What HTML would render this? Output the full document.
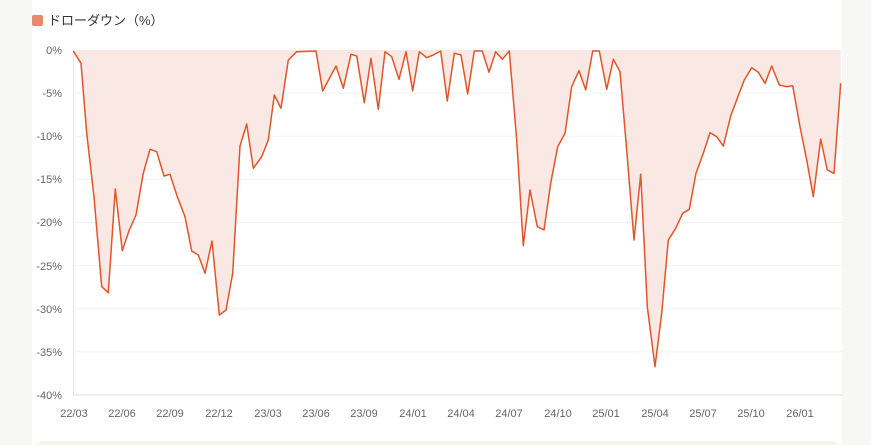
<!DOCTYPE html>
<html><head><meta charset="utf-8"><style>
html,body{margin:0;padding:0;background:#f7f7f5;width:871px;height:445px;overflow:hidden;}
</style></head><body>
<svg width="871" height="445" xmlns="http://www.w3.org/2000/svg" style="position:absolute;left:0;top:0">
<rect x="32" y="0" width="810" height="445" fill="#fff"/>
<rect x="36" y="441" width="802" height="20" rx="6" fill="#f5f4ec"/>
<rect x="32" y="15" width="11" height="11" rx="2" fill="#e6896c"/>
<text x="48" y="25" font-family="Liberation Sans, Noto Sans CJK JP, sans-serif" font-size="13" fill="#333">ドローダウン（%）</text>
<g stroke="#f2f2f2" stroke-width="1">
<line x1="73" x2="842" y1="93.1" y2="93.1"/><line x1="73" x2="842" y1="136.3" y2="136.3"/>
<line x1="73" x2="842" y1="179.4" y2="179.4"/><line x1="73" x2="842" y1="222.5" y2="222.5"/>
<line x1="73" x2="842" y1="265.6" y2="265.6"/><line x1="73" x2="842" y1="308.8" y2="308.8"/>
<line x1="73" x2="842" y1="351.9" y2="351.9"/>
</g>
<line x1="73" x2="842" y1="395" y2="395" stroke="#ddd"/>
<line x1="73.5" x2="73.5" y1="50" y2="395" stroke="#e6e6e6"/>
<g font-family="Liberation Sans, sans-serif" font-size="11" fill="#666" text-anchor="end">
<text x="62" y="54">0%</text><text x="62" y="97">-5%</text><text x="62" y="140">-10%</text>
<text x="62" y="183">-15%</text><text x="62" y="226">-20%</text><text x="62" y="270">-25%</text>
<text x="62" y="313">-30%</text><text x="62" y="356">-35%</text><text x="62" y="399">-40%</text>
</g>
<g font-family="Liberation Sans, sans-serif" font-size="11" fill="#666" text-anchor="middle">
<text x="74" y="417">22/03</text><text x="122" y="417">22/06</text><text x="170" y="417">22/09</text>
<text x="219" y="417">22/12</text><text x="268" y="417">23/03</text><text x="316" y="417">23/06</text>
<text x="364" y="417">23/09</text><text x="413" y="417">24/01</text><text x="461" y="417">24/04</text>
<text x="509" y="417">24/07</text><text x="558" y="417">24/10</text><text x="606" y="417">25/01</text>
<text x="655" y="417">25/04</text><text x="703" y="417">25/07</text><text x="751" y="417">25/10</text>
<text x="800" y="417">26/01</text>
</g>
<path fill="#f9e8e3" d="M73.3,51 L81,63.3 86.7,133 94,197 101.7,286.7 108.3,292.7 115.3,189 122.3,250.7 129.3,230 136,215 143.3,173.3 150,149.3 156.7,151.7 164,176 170,174.3 177.3,196.7 185,216.7 191.7,251 198.3,255 205,273.3 212,241 219.3,315 226,310 232.7,273.3 240,146 246.7,124 253.3,168.3 261.7,156.7 268.3,140 274.3,95 281,108.3 288.3,60 296.7,51.7 316,51 322.7,91 336,66 343.3,88.3 351,54.3 356.7,56 364.3,102.7 371,58.3 378.3,109.3 385,51.7 391.7,56.7 399,79.3 406,51.7 412.7,90.7 419.3,51.7 426.7,57.7 433.3,55 440.7,51 447.3,101 454.3,53.3 461,55 467.7,94 474.3,51 482.3,51 489,72.3 495.7,51.7 502.3,59.3 509.3,51 516.7,140 523.3,245.7 530,190 537.3,226.7 544,230 550.7,183.3 557.7,146.7 565,133.3 571.7,86.7 579,70.7 585.7,90 592.7,51 599.3,51 606.7,89.3 613.3,59.3 620,71.7 626.7,150 634,240 640.7,174.3 647.3,306.7 655,366.7 661.7,313.3 668.3,240 675.7,228.3 682.7,213.3 689.3,209.3 696,173.3 703.3,153.3 710,132.7 716.7,136.7 723.3,146 730.7,116 737.3,98.3 744.3,80 751.7,67.7 758.3,72.3 765,83.3 771.7,66 779.3,85 786.7,86.7 792.7,85.7 800,126.7 806.7,160 813.3,196.7 820.7,139 827.3,170 834,173.3 840.7,83.3 L840.7,50 L73.3,50 Z"/>
<polyline fill="none" stroke="#e0552a" stroke-width="1.5" stroke-linejoin="round" points="73.3,51 81,63.3 86.7,133 94,197 101.7,286.7 108.3,292.7 115.3,189 122.3,250.7 129.3,230 136,215 143.3,173.3 150,149.3 156.7,151.7 164,176 170,174.3 177.3,196.7 185,216.7 191.7,251 198.3,255 205,273.3 212,241 219.3,315 226,310 232.7,273.3 240,146 246.7,124 253.3,168.3 261.7,156.7 268.3,140 274.3,95 281,108.3 288.3,60 296.7,51.7 316,51 322.7,91 336,66 343.3,88.3 351,54.3 356.7,56 364.3,102.7 371,58.3 378.3,109.3 385,51.7 391.7,56.7 399,79.3 406,51.7 412.7,90.7 419.3,51.7 426.7,57.7 433.3,55 440.7,51 447.3,101 454.3,53.3 461,55 467.7,94 474.3,51 482.3,51 489,72.3 495.7,51.7 502.3,59.3 509.3,51 516.7,140 523.3,245.7 530,190 537.3,226.7 544,230 550.7,183.3 557.7,146.7 565,133.3 571.7,86.7 579,70.7 585.7,90 592.7,51 599.3,51 606.7,89.3 613.3,59.3 620,71.7 626.7,150 634,240 640.7,174.3 647.3,306.7 655,366.7 661.7,313.3 668.3,240 675.7,228.3 682.7,213.3 689.3,209.3 696,173.3 703.3,153.3 710,132.7 716.7,136.7 723.3,146 730.7,116 737.3,98.3 744.3,80 751.7,67.7 758.3,72.3 765,83.3 771.7,66 779.3,85 786.7,86.7 792.7,85.7 800,126.7 806.7,160 813.3,196.7 820.7,139 827.3,170 834,173.3 840.7,83.3"/>
</svg>
</body></html>
